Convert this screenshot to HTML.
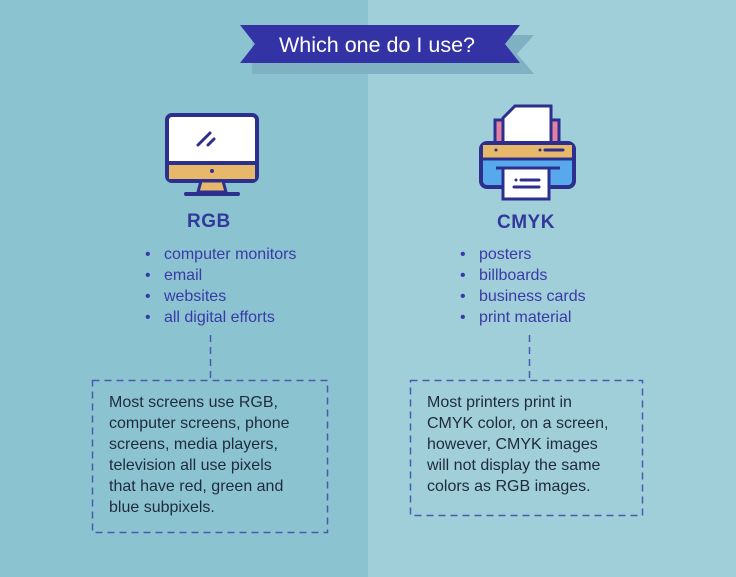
<!DOCTYPE html>
<html><head><style>
body{margin:0;width:736px;height:577px;position:relative;overflow:hidden;font-family:"Liberation Sans",sans-serif;background:#8cc3d1}
.r{position:absolute;left:368px;top:0;width:368px;height:577px;background:#a0ced9}
.t{position:absolute;color:#3a3aa6;font-size:16px;white-space:nowrap}
.h{position:absolute;color:#33399a;font-size:19px;font-weight:bold;letter-spacing:0.5px}
.box{position:absolute;box-sizing:border-box;color:#1f2b3c;font-size:16px;line-height:21px;padding:12px 0 0 17px}
</style></head><body>
<div class="r"></div>
<svg style="position:absolute;left:0;top:0" width="736" height="577">
<polygon points="252,35 534,35 517,54 534,74 252,74" fill="#7fb1c2"/>
<polygon points="240,25 520,25 505,44 520,63 240,63 255,44" fill="#3433a6"/>
<text x="377" y="52" fill="#fff" font-size="21.5" font-family="Liberation Sans" text-anchor="middle">Which one do I use?</text>
<g fill="none" stroke="#4a5ab0" stroke-width="1.5" stroke-dasharray="7,5">
<line x1="210.5" y1="335" x2="210.5" y2="380"/>
<line x1="529.5" y1="335" x2="529.5" y2="380"/>
<rect x="92.5" y="380.5" width="235" height="152"/>
<rect x="410.5" y="380.5" width="232" height="135"/>
</g>
<!-- monitor -->
<rect x="167" y="115" width="90" height="66" rx="5" fill="#fff" stroke="#2d2f8f" stroke-width="4"/>
<rect x="169" y="163" width="86" height="16" fill="#e8b86a"/>
<line x1="167" y1="163" x2="257" y2="163" stroke="#2d2f8f" stroke-width="4"/>
<circle cx="212" cy="171" r="2" fill="#2d2f8f"/>
<polygon points="201,181 223,181 226,192 198,192" fill="#e8b86a" stroke="#2d2f8f" stroke-width="3"/>
<line x1="186" y1="194" x2="238" y2="194" stroke="#2d2f8f" stroke-width="4" stroke-linecap="round"/>
<line x1="198" y1="145" x2="210" y2="133" stroke="#2d2f8f" stroke-width="3" stroke-linecap="round"/>
<line x1="208" y1="145" x2="214" y2="139" stroke="#2d2f8f" stroke-width="3" stroke-linecap="round"/>
<!-- printer -->
<rect x="495" y="120" width="10" height="24" fill="#e47fa4" stroke="#2d2f8f" stroke-width="3"/>
<rect x="549" y="120" width="10" height="24" fill="#e47fa4" stroke="#2d2f8f" stroke-width="3"/>
<polygon points="515,106 551,106 551,145 503,145 503,118" fill="#fff" stroke="#2d2f8f" stroke-width="3"/>
<rect x="481" y="143" width="93" height="44" rx="6" fill="#58a8ee" stroke="#2d2f8f" stroke-width="4"/>
<rect x="483" y="145" width="89" height="13" fill="#e8b86a"/>
<line x1="481" y1="159" x2="574" y2="159" stroke="#2d2f8f" stroke-width="3"/>
<circle cx="496" cy="150" r="1.5" fill="#2d2f8f"/><circle cx="540" cy="150" r="1.5" fill="#2d2f8f"/>
<line x1="545" y1="150" x2="563" y2="150" stroke="#2d2f8f" stroke-width="3" stroke-linecap="round"/>
<line x1="496" y1="168" x2="560" y2="168" stroke="#2d2f8f" stroke-width="3"/>
<rect x="503" y="168" width="46" height="31" fill="#fff" stroke="#2d2f8f" stroke-width="3"/>
<circle cx="516" cy="180" r="1.5" fill="#2d2f8f"/>
<line x1="521" y1="180" x2="539" y2="180" stroke="#2d2f8f" stroke-width="3" stroke-linecap="round"/>
<line x1="514" y1="187" x2="539" y2="187" stroke="#2d2f8f" stroke-width="3" stroke-linecap="round"/>
</svg>
<div class="h" style="left:187px;top:211px">RGB</div>
<div class="h" style="left:497px;top:212px">CMYK</div>
<div class="t" style="left:145px;top:244px;line-height:21px">•&nbsp;&nbsp;&nbsp;computer monitors<br>•&nbsp;&nbsp;&nbsp;email<br>•&nbsp;&nbsp;&nbsp;websites<br>•&nbsp;&nbsp;&nbsp;all digital efforts</div>
<div class="t" style="left:460px;top:244px;line-height:21px">•&nbsp;&nbsp;&nbsp;posters<br>•&nbsp;&nbsp;&nbsp;billboards<br>•&nbsp;&nbsp;&nbsp;business cards<br>•&nbsp;&nbsp;&nbsp;print material</div>
<div class="box" style="left:92px;top:380px;width:236px;height:153px">Most screens use RGB,<br>computer screens, phone<br>screens, media players,<br>television all use pixels<br>that have red, green and<br>blue subpixels.</div>
<div class="box" style="left:410px;top:380px;width:233px;height:136px">Most printers print in<br>CMYK color, on a screen,<br>however, CMYK images<br>will not display the same<br>colors as RGB images.</div>
</body></html>
